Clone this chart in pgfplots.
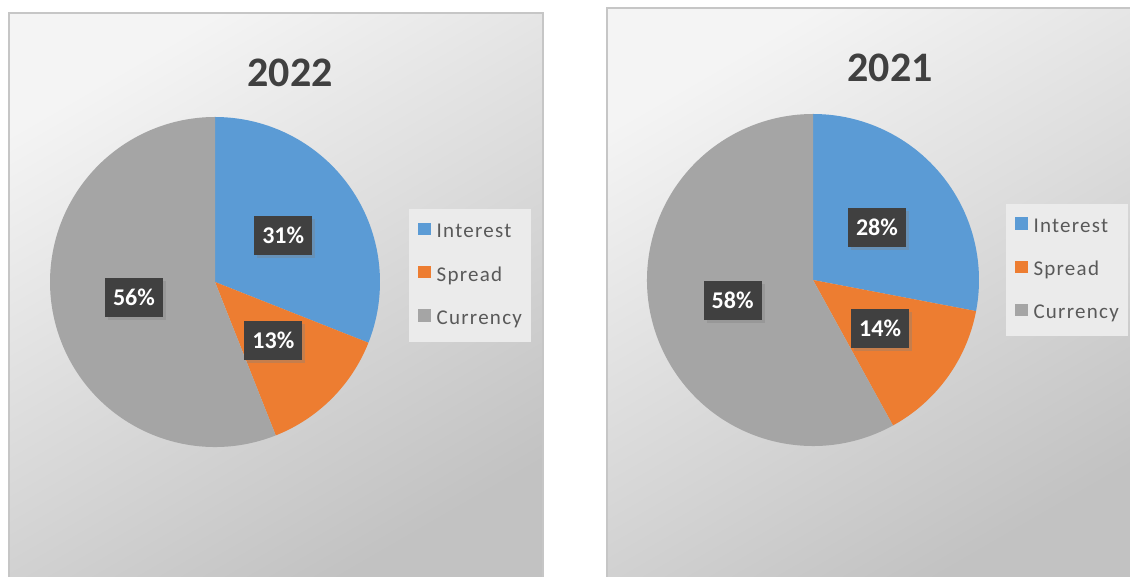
\documentclass[border=0pt]{standalone}
\usepackage{pgfplots}
\pgfplotsset{compat=1.18}
\usepackage{pgfplotstable}
\usepackage{fontspec}
\setmainfont{Carlito}
\usetikzlibrary{shadows}

\definecolor{cInterest}{HTML}{5B9BD5}
\definecolor{cSpread}{HTML}{ED7D31}
\definecolor{cCurrency}{HTML}{A5A5A5}
\colorlet{slice0}{cInterest}
\colorlet{slice1}{cSpread}
\colorlet{slice2}{cCurrency}
\definecolor{lblbg}{HTML}{404040}
\definecolor{titlec}{HTML}{404040}
\definecolor{legtext}{HTML}{595959}
\definecolor{legbg}{HTML}{EBEBEB}
\definecolor{panelborder}{HTML}{C6C6C6}
\definecolor{paneltop}{HTML}{F4F4F4}
\definecolor{panelbot}{HTML}{C2C2C2}

\pgfplotstableread{
label value
Interest 31
Spread 13
Currency 56
}\pieA
\pgfplotstableread{
label value
Interest 28
Spread 14
Currency 58
}\pieB

\tikzset{pielabel/.style={fill=lblbg, text=white,
  font=\fontsize{24}{24}\selectfont\bfseries,
  minimum width=58pt, minimum height=39pt, inner sep=0pt,
  drop shadow={shadow xshift=3pt, shadow yshift=-3pt, opacity=0.35}}}

% #1 table, #2 radius in pt
\newcommand{\drawpie}[2]{%
  \def\cumangle{90}%
  \pgfplotsforeachungrouped \i in {0,1,2}{%
    \pgfplotstablegetelem{\i}{value}\of{#1}\let\val\pgfplotsretval
    \pgfmathsetmacro{\endangle}{\cumangle-3.6*\val}%
    \pgfmathsetmacro{\sx}{cos(\cumangle)}%
    \pgfmathsetmacro{\sy}{sin(\cumangle)}%
    \edef\temp{\noexpand\fill[slice\i] (axis cs:0,0) -- (axis cs:\sx,\sy)
      arc[start angle=\cumangle, end angle=\endangle, radius=#2pt] -- cycle;}%
    \temp
    \let\cumangle\endangle
  }%
  \def\cumangle{90}%
  \pgfplotsforeachungrouped \i in {0,1,2}{%
    \pgfplotstablegetelem{\i}{value}\of{#1}\let\val\pgfplotsretval
    \pgfmathsetmacro{\endangle}{\cumangle-3.6*\val}%
    \pgfmathsetmacro{\midangle}{\cumangle-1.8*\val}%
    \pgfmathsetmacro{\lx}{0.5*cos(\midangle)}%
    \pgfmathsetmacro{\ly}{0.5*sin(\midangle)}%
    \edef\temp{\noexpand\node[pielabel] at (axis cs:\lx,\ly) {\val\noexpand\%};}%
    \temp
    \let\cumangle\endangle
  }%
}

\pgfplotsset{
  piestyle/.style={anchor=center, xmin=-1, xmax=1, ymin=-1, ymax=1,
    hide axis, clip=false, legend cell align=left,
    legend style={anchor=north west, draw=none, fill=legbg,
      font=\fontsize{21}{21}\selectfont\addfontfeature{LetterSpace=6},
      text=legtext, row sep=24pt, column sep=6pt,
      inner xsep=9pt, inner ysep=13.5pt,
      nodes={inner sep=0pt, text height=14pt, text depth=4pt}}},
  legsq/.style={legend image code/.code={\fill[#1] (0pt,-1.5pt) rectangle (12pt,10pt);}}
}

\begin{document}
\begin{tikzpicture}[x=1pt,y=1pt]
\useasboundingbox (0,0) rectangle (1130,577);
% panels
\shadedraw[top color=paneltop, bottom color=panelbot, shading angle=30,
  draw=panelborder, line width=1.5pt] (9,-5) rectangle (543,564);
\shadedraw[top color=paneltop, bottom color=panelbot, shading angle=30,
  draw=panelborder, line width=1.5pt] (607,-5) rectangle (1140,569);
% titles
\node[anchor=base, font=\fontsize{42}{42}\selectfont\bfseries, text=titlec] at (290,490) {2022};
\node[anchor=base, font=\fontsize{42}{42}\selectfont\bfseries, text=titlec] at (890,495) {2021};

\begin{axis}[piestyle, at={(215pt,295pt)}, x=165pt, y=165pt,
  legend style={at={(1.088,0.721)}}]
  \drawpie{\pieA}{165}
  \addlegendimage{legsq=cInterest}\addlegendentry{Interest}
  \addlegendimage{legsq=cSpread}\addlegendentry{Spread}
  \addlegendimage{legsq=cCurrency}\addlegendentry{Currency}
\end{axis}

\begin{axis}[piestyle, at={(813pt,297pt)}, x=166pt, y=166pt,
  legend style={at={(1.081,0.73)}}]
  \drawpie{\pieB}{166}
  \addlegendimage{legsq=cInterest}\addlegendentry{Interest}
  \addlegendimage{legsq=cSpread}\addlegendentry{Spread}
  \addlegendimage{legsq=cCurrency}\addlegendentry{Currency}
\end{axis}
\end{tikzpicture}
\end{document}
